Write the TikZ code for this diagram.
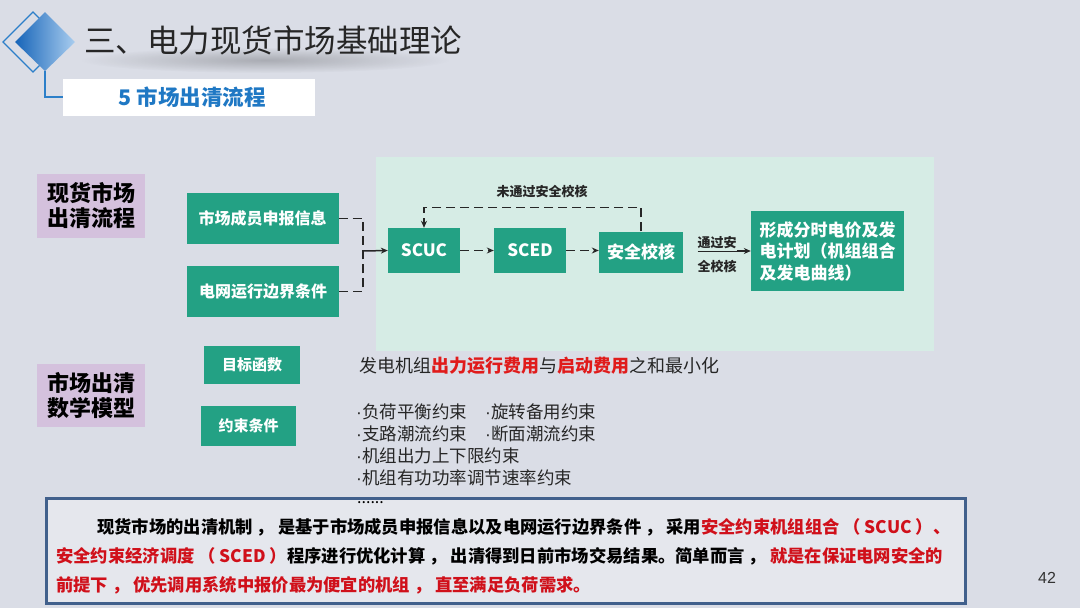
\documentclass[tikz,border=0pt]{standalone}
\usepackage{fontspec}
\setmainfont{Noto Sans CJK SC}
\newfontfamily\numfont{Liberation Sans}
\usetikzlibrary{arrows.meta,fadings}
\definecolor{bg}{HTML}{DADDE6}
\definecolor{panel}{HTML}{D6ECE5}
\definecolor{gboxc}{HTML}{23A184}
\definecolor{pboxc}{HTML}{D4C1DD}
\definecolor{bred}{HTML}{E01B1B}
\definecolor{dred}{HTML}{D0101A}
\definecolor{framec}{HTML}{41608C}
\definecolor{tblue}{HTML}{1F78C4}
\definecolor{lblue}{HTML}{2C7FC9}
\definecolor{darkb}{HTML}{1664B8}
\definecolor{lightb}{HTML}{A9CDEF}
\tikzfading[name=fuzzy, inner color=transparent!0, outer color=transparent!100]
\newcommand{\fs}[1]{\fontsize{#1}{#1}\selectfont}
\newcommand{\dt}{{\numfont ·}}
\tikzset{
  gbox/.style={fill=gboxc, text=white, inner sep=0pt, align=center, font=\bfseries\fs{16}},
  pbox/.style={fill=pboxc, text=black, inner sep=0pt, align=left, font=\bfseries\fontsize{22}{25}\selectfont},
  conn/.style={line width=1.5pt, black!85},
  dconn/.style={conn, dash pattern=on 9pt off 5pt},
  tip/.style={-{Stealth[length=7pt,width=6pt]}},
  lbl/.style={inner sep=0pt, anchor=west, text=black!85},
}
\begin{document}
\begin{tikzpicture}[x=1pt,y=-1pt]
\useasboundingbox (0,0) rectangle (1080,608);
\fill[bg] (0,0) rectangle (1080,608);

% logo
\draw[lblue, line width=1.2pt] (3,42) -- (33,12) -- (63,42) -- (33,72) -- cycle;
\shade[left color=darkb, right color=lightb] (15,42) -- (45,12) -- (75,42) -- (45,71) -- cycle;
\draw[lblue, line width=2pt] (45,71) -- (45,97) -- (63,97);

% title reflection blur
\fill[black, opacity=0.22, path fading=fuzzy] (265,60) ellipse (185pt and 13pt);
\node[lbl, text=black!85, font=\fs{31.5}] (title) at (84,40) {三、电力现货市场基础理论};

% subtitle
\node[fill=white, minimum width=252pt, minimum height=37pt, inner sep=0pt] (subbox) at (189,97.5) {};
\node[text=tblue, font=\bfseries\fs{21.5}, inner sep=0pt] (sub) at (192,97) {5 市场出清流程};

% panel
\fill[panel] (376,157) rectangle (934,351);

% left labels
\node[pbox, minimum width=108pt, minimum height=64pt] (p1) at (91,206) {现货市场\\出清流程};
\node[pbox, minimum width=108pt, minimum height=63pt] (p2) at (91,395.5) {市场出清\\数学模型};

% flow boxes
\node[gbox, minimum width=152pt, minimum height=51pt] (in1) at (262.5,218.5) {市场成员申报信息};
\node[gbox, minimum width=152pt, minimum height=51pt] (in2) at (263,291.5) {电网运行边界条件};
\node[gbox, minimum width=72pt, minimum height=45pt, font=\bfseries\fs{17}] (scuc) at (424,250.5) {SCUC};
\node[gbox, minimum width=72pt, minimum height=45pt, font=\bfseries\fs{17}] (sced) at (530,250.5) {SCED};
\node[gbox, minimum width=84pt, minimum height=41pt, font=\bfseries\fs{17}] (chk) at (641,252) {安全校核};
\node[gbox, minimum width=153pt, minimum height=80pt, align=left, font=\bfseries\fontsize{17}{21.5}\selectfont] (res) at (827.5,251) {形成分时电价及发\\电计划（机组组合\\及发电曲线）};

\node[font=\bfseries\fs{13}, inner sep=0pt, text=black!85] (fail) at (542,192) {未通过安全校核};
\node[font=\bfseries\fontsize{13}{24}\selectfont, inner sep=0pt, align=center, text=black!85] (pass) at (717,255) {\underline{通过安}\\全校核};

\coordinate (j) at (363,251);
\draw[dconn] (in1.east) -| (j);
\draw[dconn] (in2.east) -| (j);
\draw[conn, tip] (j) -- (scuc.west);
\draw[dconn, tip] (scuc.east) -- (sced.west);
\draw[dconn, tip] (sced.east) -- (sced.east -| chk.west);
\draw[dconn, tip] (chk.north) -- ++(0,-24) -| (scuc.north);
\draw[conn, tip] (res.west -| pass.east) -- (res.west);

% model boxes
\node[gbox, minimum width=96pt, minimum height=38pt, font=\bfseries\fs{15}] (obj) at (252,365) {目标函数};
\node[gbox, minimum width=95pt, minimum height=40pt, font=\bfseries\fs{15}] (con) at (248.5,426) {约束条件};

\node[lbl, font=\fs{18}] (objt) at (359,366) {发电机组\textcolor{bred}{\bfseries 出力运行费用}与\textcolor{bred}{\bfseries 启动费用}之和最小化};
\node[lbl, font=\fs{17.5}] (c1) at (356,412) {\makebox[129pt][l]{\dt 负荷平衡约束}\dt 旋转备用约束};
\node[lbl, font=\fs{17.5}] (c2) at (356,434) {\makebox[129pt][l]{\dt 支路潮流约束}\dt 断面潮流约束};
\node[lbl, font=\fs{17.5}] (c3) at (356,456) {\dt 机组出力上下限约束};
\node[lbl, font=\fs{17.5}] (c4) at (356,478) {\dt 机组有功功率调节速率约束};

% bottom frame
\draw[framec, line width=3pt, fill=bg!70!white] (46,498) rectangle (965,603);
\node[lbl, font=\fs{16}, text=black] (dots) at (357,503) {......};
\node[lbl, font=\bfseries\fs{17.3}, text=black] (l1) at (97,527) {现货市场的出清机制 ， 是基于市场成员申报信息以及电网运行边界条件 ， 采用\textcolor{dred}{安全约束机组组合 （ SCUC ）、}};
\node[lbl, font=\bfseries\fs{17.3}, text=black] (l2) at (56,556) {\textcolor{dred}{安全约束经济调度 （ SCED ）}程序进行优化计算 ， 出清得到日前市场交易结果。简单而言 ， \textcolor{dred}{就是在保证电网安全的}};
\node[lbl, font=\bfseries\fs{17.3}, text=dred] (l3) at (56,585) {前提下 ， 优先调用系统中报价最为便宜的机组 ， 直至满足负荷需求。};

\node[font=\numfont\fs{16}, text=black!80, inner sep=0pt] (pg) at (1047,578) {42};
\end{tikzpicture}
\end{document}
